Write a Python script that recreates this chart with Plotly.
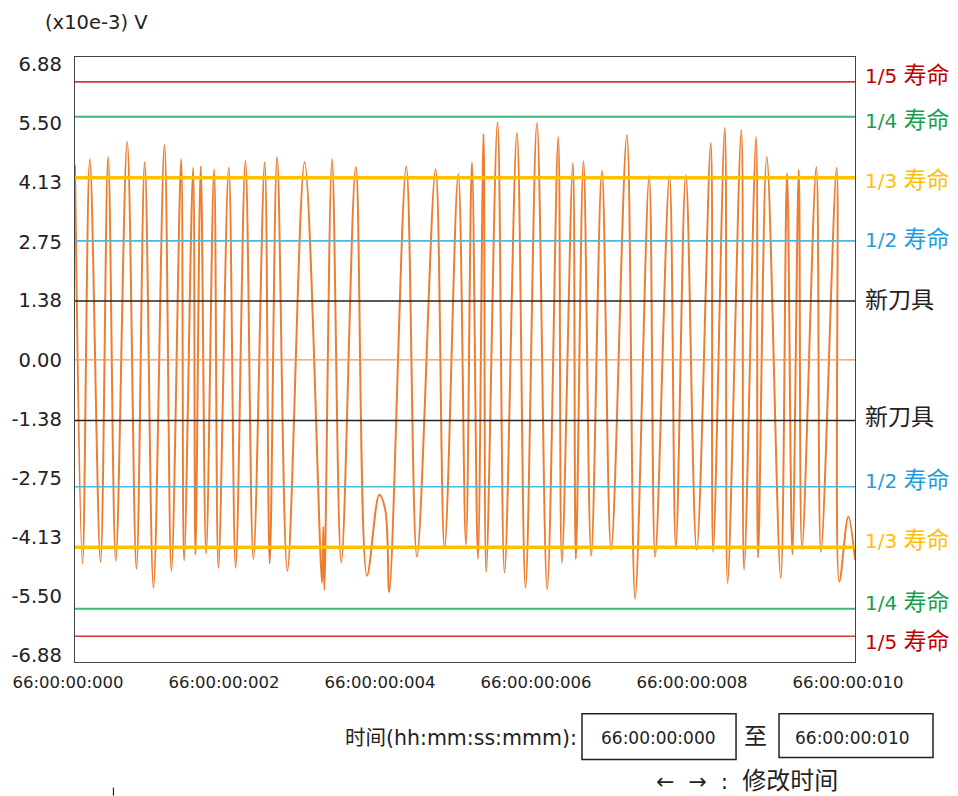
import plotly.graph_objects as go

# ---- data (time in ms from 66:00:00:000, value in x10e-3 V) ----
t_ms = [0.000, 0.096, 0.190, 0.327, 0.425, 0.523, 0.669, 0.788, 0.894, 1.006,
        1.147, 1.236, 1.361, 1.399, 1.514, 1.544, 1.612, 1.681, 1.783, 1.839,
        1.971, 2.060, 2.185, 2.287, 2.432, 2.496, 2.591, 2.723, 2.944, 3.167,
        3.184, 3.197, 3.295, 3.414, 3.600, 3.744, 3.901, 3.978, 4.029, 4.247,
        4.384, 4.623, 4.738, 4.913, 5.012, 5.089, 5.166, 5.238, 5.272, 5.417,
        5.507, 5.666, 5.776, 5.922, 6.054, 6.195, 6.242, 6.383, 6.421, 6.519,
        6.618, 6.755, 6.874, 7.075, 7.181, 7.361, 7.438, 7.621, 7.703, 7.831,
        7.970, 8.151, 8.181, 8.331, 8.367, 8.543, 8.578, 8.732, 8.757, 8.869,
        9.048, 9.129, 9.197, 9.279, 9.321, 9.504, 9.564, 9.765, 9.799, 9.914,
        10.000]
volts = [4.53, -4.74, 4.67, -4.70, 4.72, -4.67, 5.07, -4.86, 4.60, -5.30,
         5.00, -4.91, 4.67, -4.67, 4.47, -4.53, 4.51, -4.51, 4.44, -4.84,
         4.47, -4.84, 4.63, -4.63, 4.60, -4.74, 4.72, -4.91, 4.60, -5.19,
         -3.88, -5.35, 4.67, -4.72, 4.49, -5.02, -3.14, -3.49, -5.40, 4.51,
         -4.58, 4.44, -4.37, 4.33, -4.30, 4.60, -4.63, 5.26, -4.93, 5.53,
         -4.95, 5.28, -5.30, 5.51, -5.33, 5.19, -4.72, 4.58, -4.63, 4.63,
         -4.56, 4.40, -4.42, 5.23, -5.56, 4.28, -4.58, 4.28, -4.37, 4.30,
         -4.42, 5.05, -4.47, 5.40, -5.19, 5.35, -4.88, 5.19, -4.60, 4.72,
         -5.07, 4.35, -4.53, 4.42, -4.40, 4.49, -4.47, 4.47, -5.16, -3.65,
         -4.65]

# threshold lines
levels = [6.47, 5.66, 4.24, 2.77, 1.37, 0.0, -1.41, -2.95, -4.36, -5.79, -6.43]
level_prefix = ["1/5 ", "1/4 ", "1/3 ", "1/2 ", "", "", "", "1/2 ", "1/3 ", "1/4 ", "1/5 "]
level_cjk = ["寿命", "寿命", "寿命", "寿命", "新刀具", "",
             "新刀具", "寿命", "寿命", "寿命", "寿命"]
label_y = [6.63, 5.58, 4.19, 2.81, 1.40, None, -1.32, -2.79, -4.19, -5.64, -6.55]

y_tickvals = [6.88, 5.50, 4.13, 2.75, 1.38, 0.00, -1.38, -2.75, -4.13, -5.50, -6.88]
y_ticktext = ["6.88", "5.50", "4.13", "2.75", "1.38", "0.00", "-1.38", "-2.75", "-4.13", "-5.50", "-6.88"]
x_tickvals = [0, 2, 4, 6, 8, 10]
x_ticktext = ["66:00:00:000", "66:00:00:002", "66:00:00:004",
              "66:00:00:006", "66:00:00:008", "66:00:00:010"]
x_span = [0, 10]

# ---- styles ----
ORANGE = "#ED7D31"
RED_L, RED_T = "#D23A3A", "#C00000"
GRN_L, GRN_T = "#3DB878", "#14A04B"
YEL = "#FFC000"
BLU_L, BLU_T = "#4DB8D8", "#1E9CE0"
BLK = "#222222"
ZERO = "#F2935A"

line_colors = [RED_L, GRN_L, YEL, BLU_L, BLK, ZERO, BLK, BLU_L, YEL, GRN_L, RED_L]
line_widths = [1.6, 2.0, 3.6, 1.6, 1.5, 1.2, 1.5, 1.6, 3.6, 2.0, 1.6]
text_colors = [RED_T, GRN_T, YEL, BLU_T, BLK, None, BLK, BLU_T, YEL, GRN_T, RED_T]

FONT = "DejaVu Sans, Noto Sans CJK SC, sans-serif"

fig = go.Figure()

fig.add_trace(go.Scatter(
    x=t_ms, y=volts, mode="lines",
    line=dict(color=ORANGE, width=2.0, shape="spline", smoothing=1.0),
    hoverinfo="skip", showlegend=False))

for lv, c, w in zip(levels, line_colors, line_widths):
    fig.add_trace(go.Scatter(
        x=x_span, y=[lv, lv], mode="lines",
        line=dict(color=c, width=w), hoverinfo="skip", showlegend=False))

annotations = []
for pre, cjk, ly, tc in zip(level_prefix, level_cjk, label_y, text_colors):
    if not cjk:
        continue
    annotations.append(dict(
        xref="paper", yref="y", x=1, xshift=8, y=ly, xanchor="left", yanchor="middle",
        text=pre + "<span style='font-size:23px'>" + cjk + "</span>", showarrow=False,
        font=dict(family=FONT, size=20, color=tc)))

# y-axis unit title
annotations.append(dict(xref="paper", yref="paper", x=-0.0404, y=1.0578,
                        xanchor="left", yanchor="middle", text="(x10e-3) V",
                        showarrow=False, font=dict(family=FONT, size=19.5, color=BLK)))
# bottom time selector
annotations.append(dict(xref="paper", yref="paper", x=0.344, y=-0.125,
                        xanchor="left", yanchor="middle", text="时间(hh:mm:ss:mmm):",
                        showarrow=False, font=dict(family=FONT, size=20.5, color=BLK)))
annotations.append(dict(xref="paper", yref="paper", x=0.7476, y=-0.125,
                        xanchor="center", yanchor="middle", text="66:00:00:000",
                        showarrow=False, font=dict(family=FONT, size=17, color=BLK)))
annotations.append(dict(xref="paper", yref="paper", x=0.872, y=-0.1217,
                        xanchor="center", yanchor="middle", text="至",
                        showarrow=False, font=dict(family=FONT, size=23, color=BLK)))
annotations.append(dict(xref="paper", yref="paper", x=0.9974, y=-0.125,
                        xanchor="center", yanchor="middle", text="66:00:00:010",
                        showarrow=False, font=dict(family=FONT, size=17, color=BLK)))
annotations.append(dict(xref="paper", yref="paper", x=0.7425, y=-0.196,
                        xanchor="left", yanchor="middle",
                        text="←  →  :  <span style='font-size:24px'>修改时间</span>",
                        showarrow=False, font=dict(family=FONT, size=22, color=BLK)))

shapes = [
    dict(type="rect", xref="paper", yref="paper", x0=0.650, x1=0.8475, y0=-0.161, y1=-0.0854,
         line=dict(color=BLK, width=1.5)),
    dict(type="rect", xref="paper", yref="paper", x0=0.9026, x1=1.1, y0=-0.158, y1=-0.0854,
         line=dict(color=BLK, width=1.5)),
    dict(type="line", xref="paper", yref="paper", x0=0.0493, x1=0.0493, y0=-0.2076, y1=-0.2208,
         line=dict(color=BLK, width=1.2)),
]

fig.update_layout(
    width=958, height=796,
    margin=dict(l=75, r=103, t=57, b=134),
    paper_bgcolor="white", plot_bgcolor="white",
    annotations=annotations, shapes=shapes,
    font=dict(family=FONT, color=BLK),
)
fig.update_xaxes(range=[0, 10], tickvals=x_tickvals, ticktext=x_ticktext,
                 showgrid=False, zeroline=False, ticks="",
                 showline=True, linecolor="#444", linewidth=1.3, mirror=True,
                 tickfont=dict(family=FONT, size=16.5, color=BLK),
                 ticklabelshift=-7, ticklabelstandoff=5)
fig.update_yaxes(range=[-7.03, 7.05], tickvals=y_tickvals, ticktext=y_ticktext,
                 showgrid=False, zeroline=False, ticks="",
                 showline=True, linecolor="#444", linewidth=1.3, mirror=True,
                 tickfont=dict(family=FONT, size=19.5, color=BLK),
                 ticklabelstandoff=8)

fig.write_html("out.html")
